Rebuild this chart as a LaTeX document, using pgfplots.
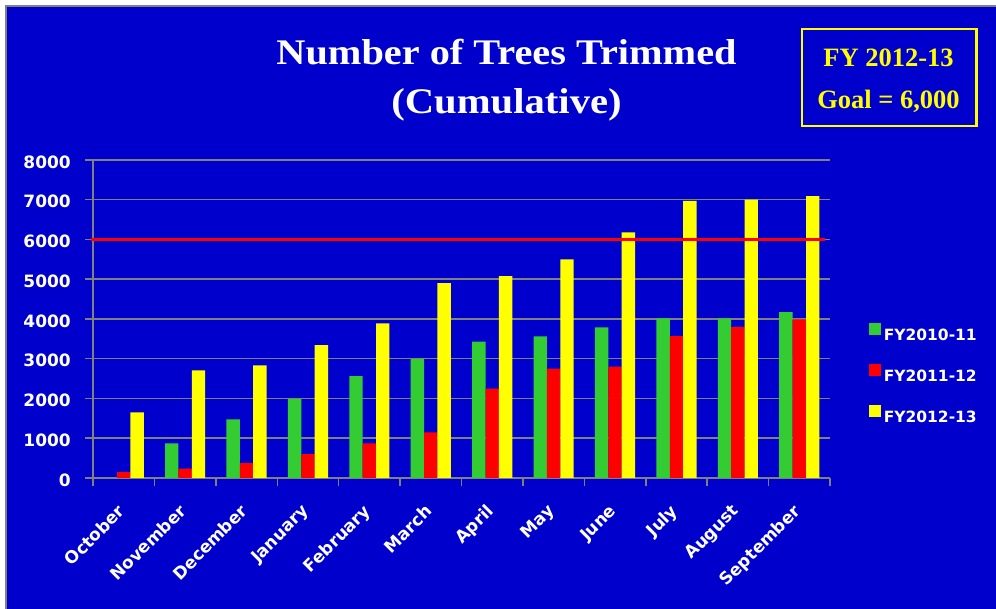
\documentclass[border=0pt]{standalone}
\usepackage{fontspec}
\setmainfont{Liberation Serif}
\newfontfamily\djv{DejaVu Sans}
\usepackage{pgfplots}
\pgfplotsset{compat=1.18}
\definecolor{bgblue}{RGB}{0,0,204}
\definecolor{cgreen}{RGB}{51,204,51}
\definecolor{cred}{RGB}{255,0,0}
\definecolor{cyellow}{RGB}{255,255,0}
\definecolor{cgrid}{RGB}{128,128,128}
\begin{document}
\begin{tikzpicture}
\useasboundingbox (0,0) rectangle (996pt,609pt);
\fill[white] (0,0) rectangle (996pt,609pt);
\fill[bgblue] (6pt,0) rectangle (996pt,603pt);
\draw[cgrid, line width=1.5pt] (6pt,0) -- (6pt,603pt) -- (996pt,603pt);
\begin{axis}[
  at={(93pt,131pt)}, anchor=south west,
  scale only axis, width=737pt, height=318pt,
  ybar=0pt, bar width=13.4pt,
  xmin=-0.5, xmax=11.5, ymin=0, ymax=8000,
  clip=false,
  xtick={-0.5,0.5,...,11.5},
  xticklabel={\vphantom{0}},
  extra x ticks={0,1,...,11},
  extra x tick labels={October,November,December,January,February,March,April,May,June,July,August,September},
  extra x tick style={major tick length=0pt,
    xticklabel style={anchor=north east, inner sep=0pt, xshift=-7pt, yshift=-25pt, rotate=45}},
  ytick={0,1000,...,8000},
  axis x line*=bottom, axis y line*=left,
  axis line style={cgrid, line width=1.5pt, -},
  ymajorgrids, grid style={cgrid, line width=1.5pt},
  tick align=outside, major tick length=8pt,
  tick style={cgrid, line width=1.5pt},
  /pgf/number format/assume math mode=true,
  /pgf/number format/1000 sep={},
  tick label style={font=\djv\bfseries\fontsize{17}{20}\selectfont, text=white},
  yticklabel style={anchor=east, inner sep=0pt, xshift=-14pt, yshift=-2pt},
  legend style={draw=none, fill=none, at={(1.049,0.327)}, anchor=west,
    font=\djv\bfseries\fontsize{15.5}{18}\selectfont, text=white,
    row sep=21pt, nodes={inner sep=2.5pt, text height=11.3pt, text depth=0pt}},
]
\addplot[fill=cgreen, draw=none, legend image code/.code={\fill[cgreen] (0pt,0pt) rectangle (12pt,12pt);}]
  coordinates {(0,0) (1,870) (2,1475) (3,1990) (4,2565) (5,2995) (6,3430) (7,3565) (8,3790) (9,4015) (10,4015) (11,4170)};
\addplot[fill=cred, draw=none, legend image code/.code={\fill[cred] (0pt,0pt) rectangle (12pt,12pt);}]
  coordinates {(0,150) (1,235) (2,375) (3,600) (4,870) (5,1150) (6,2250) (7,2750) (8,2800) (9,3570) (10,3800) (11,3990)};
\addplot[fill=cyellow, draw=none, legend image code/.code={\fill[cyellow] (0pt,0pt) rectangle (12pt,12pt);}]
  coordinates {(0,1650) (1,2710) (2,2835) (3,3340) (4,3890) (5,4900) (6,5080) (7,5500) (8,6180) (9,6970) (10,7000) (11,7090)};
\legend{FY2010-11,FY2011-12,FY2012-13}
\addplot[cred, line width=3pt, sharp plot, forget plot] coordinates {(-0.533,6000) (11.42,6000)};
\end{axis}
\node[font=\fontsize{36}{40}\selectfont\bfseries, text=white, xscale=1.12, anchor=base] at (506.5pt,544pt) {Number of Trees Trimmed};
\node[font=\fontsize{36}{40}\selectfont\bfseries, text=white, xscale=1.13, anchor=base] at (506.5pt,495pt) {(Cumulative)};
\draw[cyellow, line width=2.5pt] (802pt,580pt) rectangle (976.5pt,483pt);
\node[font=\fontsize{26.5}{30}\selectfont\bfseries, text=cyellow, anchor=base] at (888.5pt,542.3pt) {FY 2012-13};
\node[font=\fontsize{26.5}{30}\selectfont\bfseries, text=cyellow, anchor=base] at (888.5pt,500.7pt) {Goal = 6,000};
\end{tikzpicture}
\end{document}
